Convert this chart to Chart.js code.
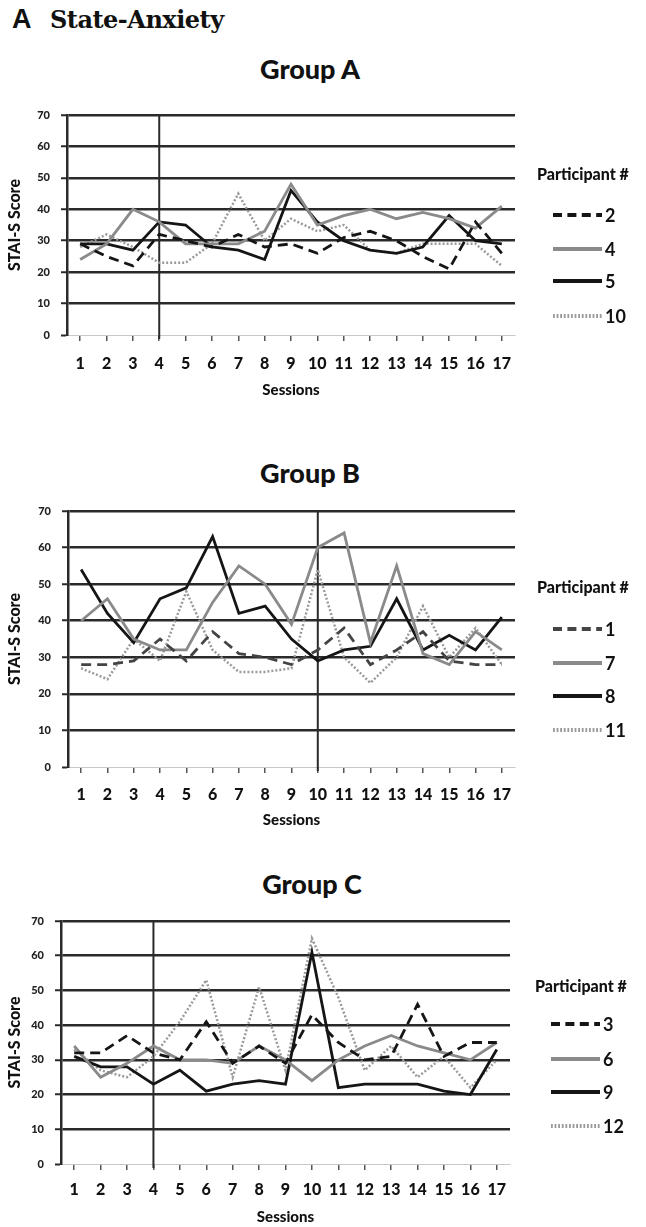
<!DOCTYPE html>
<html>
<head>
<meta charset="utf-8">
<script src="https://cdn.jsdelivr.net/npm/chart.js@4.4.0/dist/chart.umd.min.js"></script>
<style>
  body { margin: 0; background: #fff; width: 646px; height: 1227px; position: relative; overflow: hidden; }
  canvas { position: absolute; left: 0; }
  .gtitle { position: absolute; font: 900 27px Lato, sans-serif; color: #111; transform: translate(-50%, -50%); white-space: nowrap; }
  #headA { position: absolute; left: 12px; top: 4px; font: bold 27px "Liberation Sans", sans-serif; color: #111; }
  #headT { position: absolute; left: 50px; top: 5px; font: bold 24px "DejaVu Serif", serif; color: #111; letter-spacing: -0.5px; }
</style>
</head>
<body>
<div id="headA">A</div>
<div id="headT">State-Anxiety</div>
<div class="gtitle" style="left:310px; top:68px;">Group A</div>
<div class="gtitle" style="left:310px; top:472px;">Group B</div>
<div class="gtitle" style="left:312px; top:883px;">Group C</div>
<canvas id="chartA"></canvas>
<canvas id="chartB"></canvas>
<canvas id="chartC"></canvas>
<script>
// sessions on the x axis
const sessions = ['1','2','3','4','5','6','7','8','9','10','11','12','13','14','15','16','17'];
const yTicks = [0, 10, 20, 30, 40, 50, 60, 70];

// Group A participants
const groupALabels = ['2', '4', '5', '10'];
const groupA_p2  = [29, 25, 22, 32, 30, 28, 32, 28, 29, 26, 31, 33, 30, 25, 21, 36, 26];
const groupA_p4  = [24, 29, 40, 36, 29, 29, 29, 33, 48, 35, 38, 40, 37, 39, 37, 34, 41];
const groupA_p5  = [29, 29, 27, 36, 35, 28, 27, 24, 46, 36, 30, 27, 26, 28, 38, 30, 29];
const groupA_p10 = [28, 32, 28, 23, 23, 29, 45, 30, 37, 33, 35, 27, 26, 29, 29, 29, 22];

// Group B participants
const groupBLabels = ['1', '7', '8', '11'];
const groupB_p1  = [28, 28, 29, 35, 29, 37, 31, 30, 28, 32, 38, 28, 32, 37, 29, 28, 28];
const groupB_p7  = [40, 46, 35, 32, 32, 45, 55, 50, 39, 60, 64, 34, 55, 31, 28, 37, 32];
const groupB_p8  = [54, 42, 34, 46, 49, 63, 42, 44, 35, 29, 32, 33, 46, 32, 36, 32, 41];
const groupB_p11 = [27, 24, 35, 29, 48, 32, 26, 26, 27, 54, 30, 23, 30, 44, 30, 38, 28];

// Group C participants
const groupCLabels = ['3', '6', '9', '12'];
const groupC_p3  = [32, 32, 37, 32, 30, 41, 29, 34, 29, 43, 35, 30, 31, 46, 31, 35, 35];
const groupC_p6  = [34, 25, 29, 34, 30, 30, 29, 34, 30, 24, 30, 34, 37, 34, 32, 30, 35];
const groupC_p9  = [31, 28, 28, 23, 27, 21, 23, 24, 23, 61, 22, 23, 23, 23, 21, 20, 33];
const groupC_p12 = [33, 27, 25, 31, 41, 53, 25, 51, 27, 65, 48, 27, 34, 25, 31, 22, 30];

// session where the phase line is drawn
const phaseSessions = [4, 10, 4];

const FONT = 'Lato, sans-serif';

// line looks: dashed, gray, black, dotted
function styles(dashColor) {
    return [
        { color: dashColor, width: 2.8, dash: [10, 6] },
        { color: '#8a8a8a', width: 2.8, dash: [] },
        { color: '#151515', width: 2.8, dash: [] },
        { color: '#9a9a9a', width: 2.5, dash: [2, 2] }
    ];
}

const phaseLine = {
    id: 'phaseLine',
    beforeDatasetsDraw(chart, args, opts) {
        const x = chart.scales.x.getPixelForValue(opts.session - 1);
        const { top, bottom } = chart.chartArea;
        const ctx = chart.ctx;
        ctx.save();
        ctx.strokeStyle = '#2a2a2a';
        ctx.lineWidth = 2;
        ctx.beginPath();
        ctx.moveTo(x, top);
        ctx.lineTo(x, bottom + 4);
        ctx.stroke();
        ctx.restore();
    }
};

const sideLegend = {
    id: 'sideLegend',
    afterDraw(chart, args, opts) {
        const ctx = chart.ctx;
        const top = chart.chartArea.top;
        ctx.save();
        ctx.fillStyle = '#111';
        ctx.textBaseline = 'middle';
        ctx.textAlign = 'left';
        ctx.font = '900 16px ' + FONT;
        ctx.fillText('Participant #', opts.x, top + opts.titleY);
        chart.data.datasets.forEach((ds, i) => {
            const y = top + opts.itemY[i];
            ctx.strokeStyle = ds.borderColor;
            ctx.lineWidth = 4;
            ctx.setLineDash(ds.borderDash.length ? ds.borderDash.map(v => v * 0.9) : []);
            ctx.beginPath();
            ctx.moveTo(opts.x1, y);
            ctx.lineTo(opts.x2, y);
            ctx.stroke();
            ctx.setLineDash([]);
            ctx.font = 'bold 18px ' + FONT;
            ctx.fillText(ds.label, opts.x2 + 3, y + 1);
        });
        ctx.restore();
    }
};

function makeChart(id, geo, series, labels, look, phase, legendPos) {
    const canvas = document.getElementById(id);
    canvas.width = 646;
    canvas.height = geo.canvasBottom - geo.canvasTop;
    canvas.style.top = geo.canvasTop + 'px';

    new Chart(canvas, {
        type: 'line',
        data: {
            labels: sessions,
            datasets: series.map((d, i) => ({
                label: labels[i],
                data: d,
                borderColor: look[i].color,
                borderWidth: look[i].width,
                borderDash: look[i].dash,
                pointRadius: 0,
                tension: 0,
                fill: false
            }))
        },
        options: {
            responsive: false,
            animation: false,
            devicePixelRatio: 1,
            layout: { padding: { top: geo.T - geo.canvasTop, right: 646 - geo.R, left: 0, bottom: 0 } },
            plugins: {
                legend: { display: false },
                tooltip: { enabled: false },
                phaseLine: { session: phase },
                sideLegend: legendPos
            },
            scales: {
                x: {
                    offset: true,
                    grid: { drawOnChartArea: false, drawTicks: true, tickLength: 6, color: '#555', lineWidth: 1.5 },
                    border: { display: true, color: '#c8c8c8', width: 1 },
                    ticks: { font: { family: FONT, weight: '900', size: 16 }, color: '#111', padding: geo.tickPad, maxRotation: 0, autoSkip: false },
                    title: { display: true, text: 'Sessions', font: { family: FONT, weight: '900', size: 15 }, color: '#111', padding: { top: 0, bottom: geo.titlePad } },
                    afterFit: s => { s.height = geo.canvasBottom - geo.B; }
                },
                y: {
                    min: 0,
                    max: 70,
                    afterBuildTicks: s => { s.ticks = yTicks.map(v => ({ value: v })); },
                    grid: {
                        color: c => (c.tick && c.tick.value === 0) ? '#c8c8c8' : '#2a2a2a',
                        lineWidth: c => (c.tick && c.tick.value === 0) ? 1 : 2.5,
                        tickLength: 6,
                        tickColor: '#2a2a2a',
                        tickWidth: 2
                    },
                    border: { display: true, color: '#2a2a2a', width: 2.5 },
                    ticks: { font: { family: FONT, weight: '900', size: 11 }, color: '#222', padding: 11 },
                    title: { display: true, text: 'STAI-S Score', font: { family: FONT, weight: '900', size: 16 }, color: '#111', padding: { top: 5, bottom: 0 } },
                    afterFit: s => { s.width = geo.L; }
                }
            }
        },
        plugins: [phaseLine, sideLegend]
    });
}

makeChart('chartA',
    { canvasTop: 85, canvasBottom: 410, T: 115, B: 335, L: 67, R: 515, tickPad: 13, titlePad: 11 },
    [groupA_p2, groupA_p4, groupA_p5, groupA_p10], groupALabels, styles('#151515'), phaseSessions[0],
    { x: 537, x1: 553, x2: 602, titleY: 60, itemY: [100, 134, 166, 201] });

makeChart('chartB',
    { canvasTop: 481, canvasBottom: 840, T: 511, B: 767, L: 68, R: 515, tickPad: 12, titlePad: 11 },
    [groupB_p1, groupB_p7, groupB_p8, groupB_p11], groupBLabels, styles('#444'), phaseSessions[1],
    { x: 537, x1: 553, x2: 602, titleY: 77, itemY: [118, 152, 185, 219] });

makeChart('chartC',
    { canvasTop: 891, canvasBottom: 1227, T: 921, B: 1164, L: 61, R: 510, tickPad: 10, titlePad: 1 },
    [groupC_p3, groupC_p6, groupC_p9, groupC_p12], groupCLabels, styles('#151515'), phaseSessions[2],
    { x: 535, x1: 551, x2: 600, titleY: 66, itemY: [103, 138, 171, 205] });
</script>
</body>
</html>
